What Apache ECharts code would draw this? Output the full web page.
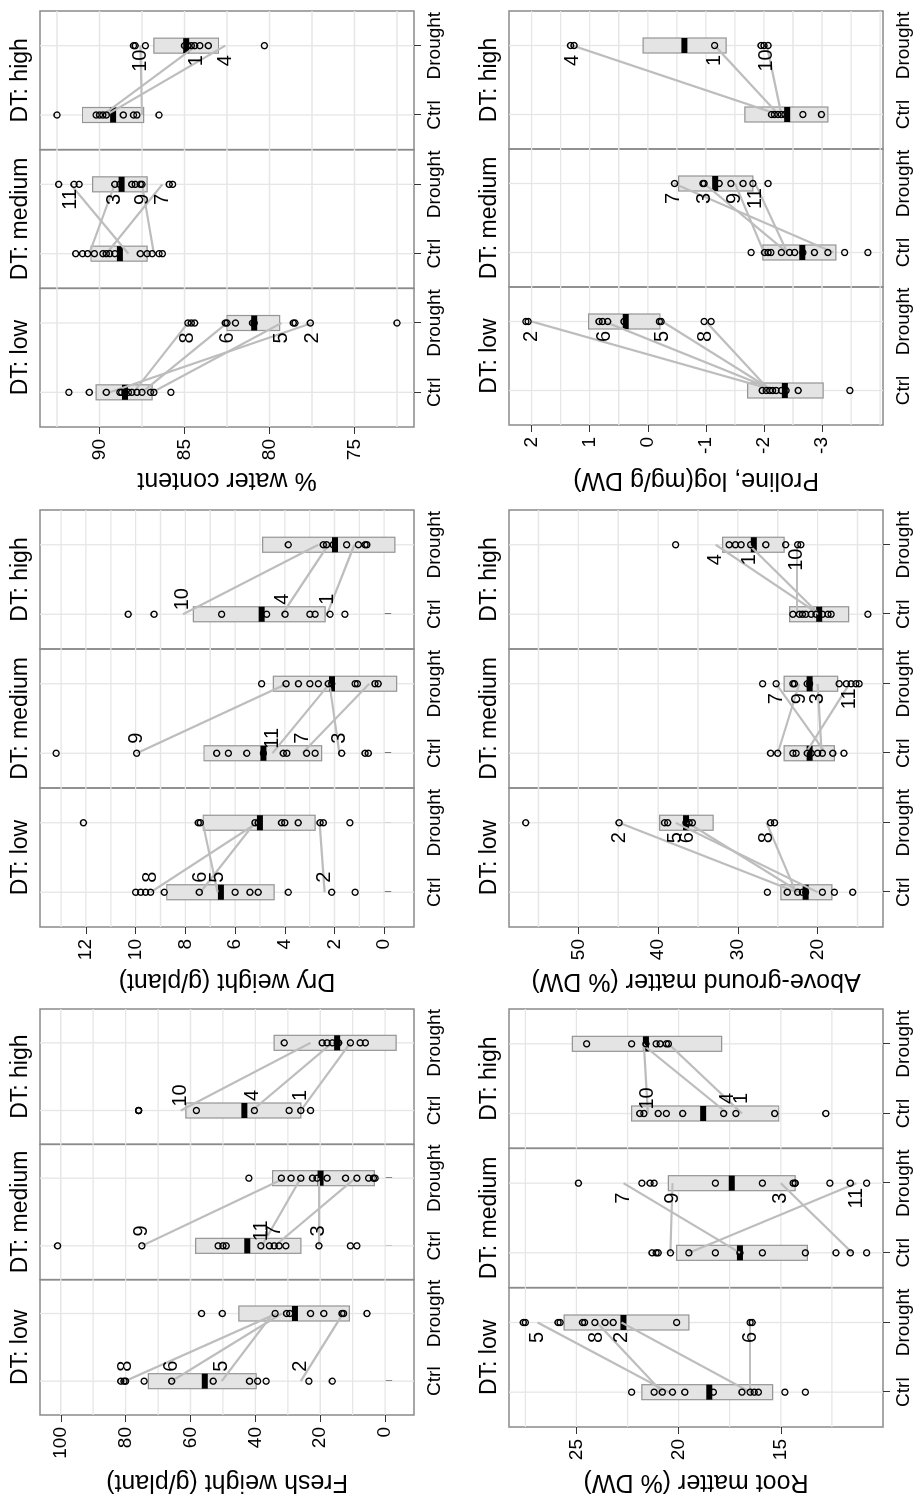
<!DOCTYPE html>
<html><head><meta charset="utf-8">
<script src="https://cdn.jsdelivr.net/npm/echarts/dist/echarts.min.js"></script>
<style>
html,body{margin:0;padding:0;background:#fff;overflow:hidden;width:913px;height:1502px;}
#chart{position:absolute;left:0;top:0;width:1502px;height:913px;transform-origin:0 0;transform:translateY(1502px) rotate(-90deg);background:#fff;}
</style></head><body><div id="chart"></div>
<script>
// ---------- categories ----------
const facetNames = ['DT: low', 'DT: medium', 'DT: high'];
const conditionNames = ['Ctrl', 'Drought'];
const conditionPos = [1, 2];

// ---------- Fresh weight (g/plant) ----------
const freshTicks = [0, 20, 40, 60, 80, 100];
const freshGrid = [0, 10, 20, 30, 40, 50, 60, 70, 80, 90, 100];
const freshRange = [-8.9, 106.4];
const freshCtrl = [
  [81.5, 80.5, 80, 74.3, 65.8, 53, 41.8, 39.3, 36.7, 23.5, 16.3],
  [101, 75, 51.5, 50, 49, 38.3, 35.7, 34.2, 32.7, 30.6, 20.4, 10.7, 8.7],
  [76, 76, 76, 58.2, 40.3, 29.6, 26, 23]
];
const freshDrought = [
  [56.6, 50.2, 33.9, 30.4, 29.4, 23, 18.9, 13.3, 12.8, 5.6],
  [42, 32, 29, 26, 22.4, 21, 17.9, 12.2, 8.7, 5.1, 3.6, 3.1],
  [31.1, 19.4, 17.9, 16.3, 14.8, 14.3, 10.7, 7.7, 6.1]
];
const freshBoxCtrl = [[39.8, 55.6, 73], [26, 42.5, 58.4], [26, 43.4, 61.4]];      // q1, median, q3
const freshBoxDrought = [[11, 27.8, 45.1], [3.3, 19.9, 34.7], [-3.4, 14.8, 34.2]];
const freshPairs = [   // sample id, Ctrl value, Drought value
  [[8, 80.2, 33.4], [6, 65.8, 31.9], [5, 50.4, 34.6], [2, 26, 13]],
  [[9, 75, 31], [11, 38, 26], [7, 34, 9.2], [3, 20.4, 20.4]],
  [[10, 63, 23], [4, 41, 16.3], [1, 26, 10.7]]
];
const freshLabelSide = ['Ctrl', 'Ctrl', 'Ctrl'];

// ---------- Dry weight (g/plant) ----------
const dryTicks = [0, 2, 4, 6, 8, 10, 12];
const dryGrid = [0, 1, 2, 3, 4, 5, 6, 7, 8, 9, 10, 11, 12, 13];
const dryRange = [-1.2, 13.85];
const dryCtrl = [
  [10.0, 9.8, 9.6, 9.4, 8.85, 7.44, 6.0, 5.4, 5.07, 3.86, 2.11, 1.17],
  [13.2, 9.96, 6.74, 6.27, 5.53, 4.86, 4.06, 3.92, 3.12, 2.78, 1.71, 0.77, 0.64],
  [10.3, 9.26, 6.54, 4.73, 3.99, 2.99, 2.78, 2.18, 1.58]
];
const dryDrought = [
  [12.1, 7.48, 7.4, 5.2, 5.07, 4.13, 4.0, 3.46, 2.58, 2.45, 1.38],
  [4.93, 3.95, 3.45, 2.99, 2.65, 2.25, 2.11, 1.17, 1.08, 0.37, 0.24],
  [3.86, 2.45, 2.32, 2.05, 1.51, 1.04, 0.77, 0.7]
];
const dryBoxCtrl = [[4.43, 6.57, 8.75], [2.52, 4.86, 7.25], [2.38, 4.93, 7.68]];
const dryBoxDrought = [[2.78, 5.0, 7.28], [-0.5, 2.1, 4.46], [-0.43, 1.98, 4.89]];
const dryPairs = [
  [[8, 9.4, 5.1], [6, 7.4, 5.2], [5, 6.7, 7.3], [2, 2.4, 2.6]],
  [[9, 9.96, 3.92], [11, 4.5, 2.2], [7, 3.3, 0.6], [3, 1.8, 2.2]],
  [[10, 8.1, 2.65], [4, 4.1, 2.25], [1, 2.3, 1.2]]
];
const dryLabelSide = ['Ctrl', 'Ctrl', 'Ctrl'];

// ---------- % water content ----------
const waterTicks = [75, 80, 85, 90];
const waterGrid = [72.5, 75, 77.5, 80, 82.5, 85, 87.5, 90, 92.5];
const waterRange = [71.5, 93.5];
const waterCtrl = [
  [91.8, 90.6, 89.6, 88.8, 88.7, 88.5, 88.3, 88.1, 87.8, 87.5, 87.0, 86.8, 85.8],
  [91.4, 91.0, 90.7, 90.3, 89.8, 89.6, 89.4, 89.1, 87.6, 87.2, 86.9, 86.5, 86.3],
  [92.5, 90.2, 90.0, 89.8, 89.6, 88.6, 88.0, 87.8, 86.5]
];
const waterDrought = [
  [84.8, 84.6, 84.4, 82.6, 82.5, 82.0, 81.0, 80.9, 78.6, 78.5, 77.6, 72.5],
  [92.4, 91.5, 91.2, 89.1, 88.8, 88.1, 87.9, 87.6, 87.5, 85.9, 85.7],
  [88.0, 87.9, 87.3, 85.0, 84.8, 84.6, 84.4, 84.1, 83.6, 80.3]
];
const waterBoxCtrl = [[86.9, 88.5, 90.2], [87.2, 88.8, 90.5], [87.4, 89.2, 91.0]];
const waterBoxDrought = [[79.4, 80.9, 82.5], [87.2, 88.7, 90.4], [83.0, 84.9, 86.8]];
const waterPairs = [
  [[8, 88.0, 84.8], [6, 87.5, 82.5], [5, 86.9, 79.3], [2, 89.4, 77.5]],
  [[11, 88.3, 91.7], [3, 90.6, 89.1], [9, 86.8, 87.5], [7, 89.6, 86.3]],
  [[10, 87.5, 87.6], [1, 89.8, 84.3], [4, 89.6, 82.6]]
];
const waterLabelSide = ['Drought', 'Drought', 'Drought'];

// ---------- Root matter (% DW) ----------
const rootTicks = [15, 20, 25];
const rootGrid = [12.5, 15, 17.5, 20, 22.5, 25, 27.5];
const rootRange = [10.0, 28.3];
const rootCtrl = [
  [22.3, 21.2, 20.8, 20.3, 19.7, 18.3, 16.9, 16.5, 16.3, 16.1, 14.8, 13.8],
  [21.3, 21.1, 21.0, 20.4, 19.5, 18.2, 17.0, 15.9, 13.8, 12.3, 11.6, 10.8],
  [21.9, 21.7, 21.0, 20.6, 19.8, 17.8, 17.2, 15.3, 12.8]
];
const rootDrought = [
  [27.6, 27.5, 25.9, 25.8, 24.7, 24.6, 24.1, 23.6, 23.2, 20.1, 16.5, 16.4],
  [24.9, 21.8, 21.4, 21.2, 18.2, 15.9, 14.4, 14.3, 14.3, 12.6, 11.6, 10.8],
  [24.5, 22.3, 21.6, 21.1, 20.9, 20.6, 20.5]
];
const rootBoxCtrl = [[15.4, 18.5, 21.8], [13.7, 17.0, 20.1], [15.1, 18.8, 22.3]];
const rootBoxDrought = [[19.5, 22.7, 25.6], [14.3, 17.4, 20.5], [17.9, 21.6, 25.2]];
const rootPairs = [
  [[5, 20.5, 26.9], [8, 20.8, 24.0], [2, 16.5, 22.8], [6, 16.5, 16.5]],
  [[7, 17.0, 22.7], [9, 20.4, 20.3], [3, 11.5, 15.0], [11, 19.5, 11.3]],
  [[10, 21.5, 21.7], [4, 17.6, 21.8], [1, 16.9, 20.5]]
];
const rootLabelSide = ['Drought', 'Drought', 'Ctrl'];

// ---------- Above-ground matter (% DW) ----------
const aboveTicks = [20, 30, 40, 50];
const aboveGrid = [15, 20, 25, 30, 35, 40, 45, 50, 55];
const aboveRange = [11.8, 58.7];
const aboveCtrl = [
  [26.3, 23.8, 22.5, 21.9, 21.5, 19.4, 17.9, 15.6],
  [25.9, 25.0, 23.1, 22.7, 21.3, 20.8, 20.0, 19.4, 18.1, 16.7],
  [23.1, 22.3, 21.9, 21.5, 20.8, 20.2, 19.4, 18.7, 18.3, 13.7]
];
const aboveDrought = [
  [56.6, 44.9, 39.2, 38.8, 36.5, 36.1, 35.7, 25.9, 25.4],
  [26.9, 25.2, 23.1, 22.9, 21.3, 21.0, 17.3, 16.4, 15.8, 15.2, 14.8],
  [37.8, 31.1, 30.3, 29.6, 28.4, 26.5, 24.0, 22.5, 22.1]
];
const aboveBoxCtrl = [[18.2, 21.5, 24.6], [17.9, 21.0, 24.2], [16.1, 19.8, 23.5]];
const aboveBoxDrought = [[33.1, 36.5, 39.8], [17.5, 21.0, 24.2], [24.2, 28.0, 31.9]];
const abovePairs = [
  [[2, 22.6, 44.9], [5, 20.0, 37.8], [6, 22.2, 36.3], [8, 22.7, 26.4]],
  [[7, 19.0, 25.2], [9, 25.0, 22.3], [3, 19.5, 20.0], [11, 21.5, 16.0]],
  [[4, 19.8, 32.8], [1, 19.8, 28.6], [10, 22.6, 22.6]]
];
const aboveLabelSide = ['Drought', 'Drought', 'Drought'];

// ---------- Proline, log(mg/g DW) ----------
const prolineTicks = [-3, -2, -1, 0, 1, 2];
const prolineGrid = [-4, -3.5, -3, -2.5, -2, -1.5, -1, -0.5, 0, 0.5, 1, 1.5, 2];
const prolineRange = [-4.05, 2.39];
const prolineCtrl = [
  [-1.97, -2.04, -2.1, -2.15, -2.21, -2.3, -2.38, -2.59, -3.48],
  [-1.78, -2.01, -2.07, -2.12, -2.3, -2.44, -2.53, -2.67, -2.87, -3.1, -3.39, -3.79],
  [-2.13, -2.18, -2.24, -2.3, -2.36, -2.67, -2.99]
];
const prolineDrought = [
  [2.1, 2.06, 0.84, 0.78, 0.69, 0.41, -0.2, -0.23, -0.97, -1.09],
  [-0.46, -0.95, -0.97, -1.23, -1.43, -1.64, -1.81, -2.07],
  [1.33, 1.27, -1.15, -1.95, -2.0, -2.07]
];
const prolineBoxCtrl = [[-3.02, -2.36, -1.72], [-3.24, -2.66, -1.98], [-3.1, -2.4, -1.67]];
const prolineBoxDrought = [[-0.21, 0.38, 1.02], [-1.81, -1.16, -0.53], [-1.35, -0.63, 0.08]];
const prolinePairs = [
  [[2, -2.2, 2.0], [6, -2.2, 0.75], [5, -2.15, -0.25], [8, -2.1, -1.0]],
  [[7, -3.2, -0.45], [3, -2.4, -0.97], [9, -2.0, -1.5], [11, -2.4, -1.85]],
  [[4, -2.25, 1.3], [1, -2.25, -1.15], [10, -2.3, -2.05]]
];
const prolineLabelSide = ['Drought', 'Drought', 'Drought'];

// ---------- layout & style ----------
const FONT = "'Liberation Sans', Arial, Helvetica, sans-serif";
const X_MIN = 0.5, X_MAX = 2.5;
const CELL_W = 1502 / 3;
const panels = [
  {title: 'Fresh weight (g/plant)', ctrl: freshCtrl, drought: freshDrought, boxC: freshBoxCtrl, boxD: freshBoxDrought, pairs: freshPairs, side: freshLabelSide, ticks: freshTicks, grid: freshGrid, range: freshRange, col: 0, frame: {left: 87, right: 493, top: 40, bottom: 414}},
  {title: 'Dry weight (g/plant)', ctrl: dryCtrl, drought: dryDrought, boxC: dryBoxCtrl, boxD: dryBoxDrought, pairs: dryPairs, side: dryLabelSide, ticks: dryTicks, grid: dryGrid, range: dryRange, col: 1, frame: {left: 575, right: 992, top: 40, bottom: 414}},
  {title: '% water content', ctrl: waterCtrl, drought: waterDrought, boxC: waterBoxCtrl, boxD: waterBoxDrought, pairs: waterPairs, side: waterLabelSide, ticks: waterTicks, grid: waterGrid, range: waterRange, col: 2, frame: {left: 1075, right: 1491, top: 40, bottom: 414}},
  {title: 'Root matter (% DW)', ctrl: rootCtrl, drought: rootDrought, boxC: rootBoxCtrl, boxD: rootBoxDrought, pairs: rootPairs, side: rootLabelSide, ticks: rootTicks, grid: rootGrid, range: rootRange, col: 0, frame: {left: 75, right: 493, top: 509, bottom: 883}},
  {title: 'Above-ground matter (% DW)', ctrl: aboveCtrl, drought: aboveDrought, boxC: aboveBoxCtrl, boxD: aboveBoxDrought, pairs: abovePairs, side: aboveLabelSide, ticks: aboveTicks, grid: aboveGrid, range: aboveRange, col: 1, frame: {left: 575, right: 992, top: 509, bottom: 883}},
  {title: 'Proline, log(mg/g DW)', ctrl: prolineCtrl, drought: prolineDrought, boxC: prolineBoxCtrl, boxD: prolineBoxDrought, pairs: prolinePairs, side: prolineLabelSide, ticks: prolineTicks, grid: prolineGrid, range: prolineRange, col: 2, frame: {left: 1077, right: 1491, top: 509, bottom: 883}}
];

const GRID_COLOR = '#e6e6e6';
const BOX_W = 15;
const LABEL_SHIFT = 15;

const grids = [], xAxes = [], yAxes = [], series = [];

panels.forEach(p => {
  const w = (p.frame.right - p.frame.left) / 3;
  const yMid = (p.range[0] + p.range[1]) / 2;
  for (let f = 0; f < 3; f++) {
    const gi = grids.length;
    grids.push({
      left: p.frame.left + f * w, top: p.frame.top, width: w, height: p.frame.bottom - p.frame.top,
      show: true, borderColor: '#8a8a8a', borderWidth: 1.5, backgroundColor: 'rgba(0,0,0,0)', containLabel: false
    });
    const xi = xAxes.length;
    xAxes.push({
      type: 'value', gridIndex: gi, position: 'bottom', min: X_MIN, max: X_MAX,
      axisLine: {show: false}, splitLine: {show: false},
      axisTick: {show: true, customValues: conditionPos, length: 7, lineStyle: {color: '#333', width: 1}},
      axisLabel: {show: true, customValues: conditionPos, margin: 11, fontSize: 19, color: '#000', fontFamily: FONT,
        formatter: v => conditionNames[conditionPos.indexOf(v)] || ''}
    });
    xAxes.push({
      type: 'value', gridIndex: gi, position: 'top', min: X_MIN, max: X_MAX,
      axisLine: {show: false}, axisTick: {show: false}, axisLabel: {show: false}, splitLine: {show: false},
      name: facetNames[f], nameLocation: 'middle', nameGap: 8,
      nameTextStyle: {fontSize: 23, color: '#000', fontFamily: FONT}
    });
    const yi = yAxes.length;
    yAxes.push({
      type: 'value', gridIndex: gi, min: p.range[0], max: p.range[1],
      axisLine: {show: false}, splitLine: {show: false},
      axisTick: {show: f === 0, customValues: p.ticks, length: 7, lineStyle: {color: '#333', width: 1}},
      axisLabel: {show: f === 0, customValues: p.ticks, margin: 12, fontSize: 19, color: '#000', fontFamily: FONT},
      name: f === 0 ? p.title : '', nameLocation: 'middle',
      nameGap: p.frame.left - p.col * CELL_W - 33,
      nameTextStyle: {fontSize: 25, color: '#000', fontFamily: FONT}
    });

    // horizontal grid lines
    series.push({
      type: 'custom', xAxisIndex: xi, yAxisIndex: yi, z: 1, silent: true, animation: false,
      data: p.grid.map(v => [(X_MIN + X_MAX) / 2, v]),
      renderItem: (params, api) => {
        const a = api.coord([X_MIN, api.value(1)]), b = api.coord([X_MAX, api.value(1)]);
        return {type: 'line', shape: {x1: a[0], y1: a[1], x2: b[0], y2: b[1]}, style: {stroke: GRID_COLOR, lineWidth: 1.3}};
      }
    });
    // vertical grid lines at the conditions
    const r0 = p.range[0], r1 = p.range[1];
    series.push({
      type: 'custom', xAxisIndex: xi, yAxisIndex: yi, z: 1, silent: true, animation: false,
      data: conditionPos.map(x => [x, yMid]),
      renderItem: (params, api) => {
        const a = api.coord([api.value(0), r0]), b = api.coord([api.value(0), r1]);
        return {type: 'line', shape: {x1: a[0], y1: a[1], x2: b[0], y2: b[1]}, style: {stroke: GRID_COLOR, lineWidth: 1.3}};
      }
    });
    // boxes
    series.push({
      type: 'custom', xAxisIndex: xi, yAxisIndex: yi, z: 2, silent: true, animation: false,
      encode: {x: 0, y: [1, 2, 3]},
      data: [[conditionPos[0]].concat(p.boxC[f]), [conditionPos[1]].concat(p.boxD[f])],
      renderItem: (params, api) => {
        const x = api.value(0);
        const lo = api.coord([x, api.value(1)]), md = api.coord([x, api.value(2)]), hi = api.coord([x, api.value(3)]);
        return {type: 'group', children: [
          {type: 'rect', shape: {x: lo[0] - BOX_W / 2, y: hi[1], width: BOX_W, height: lo[1] - hi[1]},
            style: {fill: '#e4e4e4', stroke: '#959595', lineWidth: 1.2}},
          {type: 'rect', shape: {x: md[0] - BOX_W / 2, y: md[1] - 3, width: BOX_W, height: 6},
            style: {fill: '#000'}}
        ]};
      }
    });
    // paired lines
    series.push({
      type: 'lines', coordinateSystem: 'cartesian2d', xAxisIndex: xi, yAxisIndex: yi, z: 3, silent: true, animation: false,
      lineStyle: {color: '#bdbdbd', width: 2.2, opacity: 1, curveness: 0},
      data: p.pairs[f].map(q => ({coords: [[conditionPos[0], q[1]], [conditionPos[1], q[2]]]}))
    });
    // points
    series.push({
      type: 'scatter', xAxisIndex: xi, yAxisIndex: yi, z: 4, silent: true, animation: false,
      symbol: 'circle', symbolSize: 6,
      itemStyle: {color: 'rgba(0,0,0,0)', borderColor: '#000', borderWidth: 1.4, opacity: 1},
      data: p.ctrl[f].map(v => [conditionPos[0], v]).concat(p.drought[f].map(v => [conditionPos[1], v]))
    });
    // sample labels
    const atCtrl = p.side[f] === 'Ctrl';
    series.push({
      type: 'custom', xAxisIndex: xi, yAxisIndex: yi, z: 5, silent: true, animation: false,
      data: p.pairs[f].map(q => atCtrl ? [conditionPos[0], q[1], q[0]] : [conditionPos[1], q[2], q[0]]),
      renderItem: (params, api) => {
        const c = api.coord([api.value(0), api.value(1)]);
        return {type: 'text', x: c[0] + (atCtrl ? LABEL_SHIFT : -LABEL_SHIFT), y: c[1],
          style: {text: String(api.value(2)), fill: '#000', fontSize: 20, fontFamily: FONT, align: 'center', verticalAlign: 'middle'}};
      }
    });
  }
});

const chart = echarts.init(document.getElementById('chart'), null, {renderer: 'canvas', width: 1502, height: 913});
chart.setOption({
  animation: false,
  backgroundColor: '#fff',
  textStyle: {fontFamily: FONT},
  grid: grids, xAxis: xAxes, yAxis: yAxes, series: series
});
</script></body></html>
